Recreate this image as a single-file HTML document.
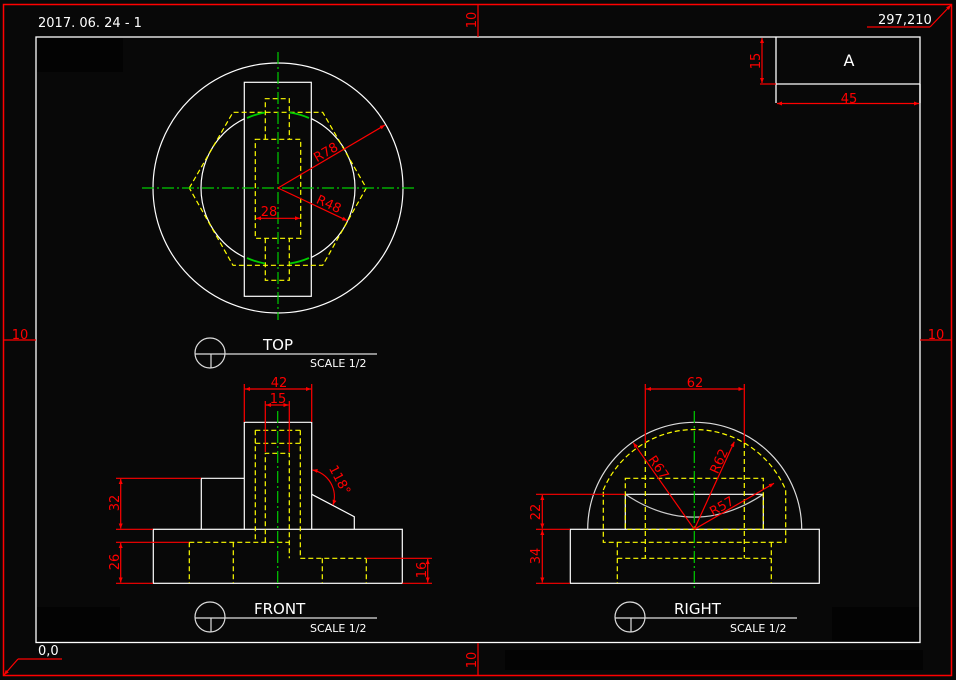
<!DOCTYPE html>
<html><head><meta charset="utf-8"><style>
html,body{margin:0;padding:0;background:#080808;}
svg{display:block;}
text{font-family:"DejaVu Sans","Liberation Sans",sans-serif;}
</style></head><body>
<svg width="956" height="680" viewBox="0 0 956 680" xmlns="http://www.w3.org/2000/svg">
<defs>
<marker id="ar" viewBox="0 0 10 10" refX="10" refY="5" markerWidth="7" markerHeight="5" orient="auto-start-reverse" markerUnits="userSpaceOnUse"><path d="M0,1 L10,5 L0,9 z" fill="#f00"/></marker>
<clipPath id="outRect"><path d="M0,0 H956 V680 H0 Z M244.3,82.3 V296.3 H311.3 V82.3 Z" clip-rule="evenodd"/></clipPath>
</defs>
<rect width="956" height="680" fill="#080808"/>
<g fill="#030303">
<rect x="37" y="38" width="86" height="34"/>
<rect x="37" y="607" width="83" height="34"/>
<rect x="832" y="607" width="87" height="34"/>
<rect x="505" y="650" width="418" height="20"/>
</g>
<rect x="3.5" y="4.5" width="948" height="671" fill="none" stroke="#f00" stroke-width="1.5"/>
<rect x="36" y="37" width="884" height="605.5" fill="none" stroke="#fff" stroke-width="1.3"/>
<g stroke="#f00" stroke-width="1.2">
<line x1="478" y1="4" x2="478" y2="37"/>
<line x1="478" y1="643" x2="478" y2="676"/>
<line x1="4" y1="340" x2="36" y2="340"/>
<line x1="920" y1="340" x2="951" y2="340"/>
</g>
<g fill="#f00" font-size="13">
<text x="20" y="339" text-anchor="middle">10</text>
<text x="936" y="339" text-anchor="middle">10</text>
<text transform="translate(476,20) rotate(-90)" text-anchor="middle">10</text>
<text transform="translate(476,660) rotate(-90)" text-anchor="middle">10</text>
</g>
<text x="38" y="27" fill="#fff" font-size="13">2017. 06. 24 - 1</text>
<text x="878" y="24" fill="#fff" font-size="13">297,210</text>
<polyline points="867,27 930,27" stroke="#f00" stroke-width="1.2" fill="none"/>
<line x1="930" y1="27" x2="951" y2="5" stroke="#f00" stroke-width="1.2" marker-end="url(#ar)"/>
<text x="38" y="655" fill="#fff" font-size="13">0,0</text>
<line x1="18" y1="659" x2="62" y2="659" stroke="#f00" stroke-width="1.2"/>
<line x1="18" y1="659" x2="4" y2="675" stroke="#f00" stroke-width="1.2" marker-end="url(#ar)"/>
<g stroke="#fff" stroke-width="1.3" fill="none">
<polyline points="776,37 776,84 920,84"/>
<line x1="776" y1="84" x2="776" y2="103"/>
<line x1="920" y1="84" x2="920" y2="103"/>
</g>
<text x="849" y="66" fill="#fff" font-size="16" text-anchor="middle">A</text>
<g stroke="#f00" stroke-width="1.2">
<line x1="760" y1="84" x2="776" y2="84"/>
<line x1="762" y1="38" x2="762" y2="83" marker-start="url(#ar)" marker-end="url(#ar)"/>
<line x1="777" y1="103.5" x2="919" y2="103.5" marker-start="url(#ar)" marker-end="url(#ar)"/>
</g>
<text x="849" y="103" fill="#f00" font-size="13" text-anchor="middle">45</text>
<text transform="translate(760,61) rotate(-90)" fill="#f00" font-size="13" text-anchor="middle">15</text>

<!-- TOP VIEW -->
<g fill="none" stroke-width="1.2">
<circle cx="278" cy="188" r="125" stroke="#fff"/>
<circle cx="278" cy="188" r="77" stroke="#fff" clip-path="url(#outRect)"/>
<rect x="244.3" y="82.3" width="67" height="214" stroke="#fff"/>
<g stroke="#ff0" stroke-dasharray="5,3">
<polygon points="189.3,188 233,112.3 322.7,112.3 366.3,188 322.7,265.3 233,265.3"/>
<rect x="255.3" y="139.3" width="45.4" height="99"/>
<polyline points="265.3,139.3 265.3,98.7 289.3,98.7 289.3,139.3"/>
<polyline points="265.3,238.3 265.3,280.3 289.3,280.3 289.3,238.3"/>
</g>
<g stroke="#0c0" stroke-width="1.8">
<path d="M247,118 A77,77 0 0 1 265,112.5"/>
<path d="M289.5,112.5 A77,77 0 0 1 309,118"/>
<path d="M247,258 A77,77 0 0 0 265,263.5"/>
<path d="M289.5,263.5 A77,77 0 0 0 309,258"/>
</g>
<g stroke="#0c0" stroke-dasharray="12,3,2,3">
<line x1="142" y1="188" x2="414" y2="188"/>
<line x1="278" y1="52" x2="278" y2="320"/>
</g>
<g stroke="#f00">
<line x1="278" y1="188" x2="385" y2="125" marker-end="url(#ar)"/>
<line x1="278" y1="188" x2="347.3" y2="220.7" marker-end="url(#ar)"/>
<line x1="256" y1="218.3" x2="300" y2="218.3" marker-start="url(#ar)" marker-end="url(#ar)"/>
</g>
</g>
<g fill="#f00" font-size="13">
<text transform="translate(328,156) rotate(-30)" text-anchor="middle">R78</text>
<text transform="translate(327,208) rotate(25)" text-anchor="middle">R48</text>
<text x="269" y="216" text-anchor="middle">28</text>
</g>

<g stroke="#ddd" stroke-width="1.2" fill="none">
<circle cx="210" cy="353" r="15"/><line x1="195" y1="354" x2="377" y2="354"/><line x1="211" y1="354" x2="211" y2="368"/>
<circle cx="210" cy="617" r="15"/><line x1="195" y1="618" x2="377" y2="618"/><line x1="211" y1="618" x2="211" y2="632"/>
<circle cx="630" cy="617" r="15"/><line x1="615" y1="618" x2="797" y2="618"/><line x1="631" y1="618" x2="631" y2="632"/>
</g>
<g fill="#fff">
<text x="263" y="350" font-size="15">TOP</text>
<text x="310" y="367" font-size="11">SCALE 1/2</text>
<text x="254" y="614" font-size="15">FRONT</text>
<text x="310" y="632" font-size="11">SCALE 1/2</text>
<text x="674" y="614" font-size="15">RIGHT</text>
<text x="730" y="632" font-size="11">SCALE 1/2</text>
</g>

<!-- FRONT VIEW -->
<g fill="none" stroke-width="1.2">
<g stroke="#fff">
<rect x="153.3" y="529.3" width="249" height="54"/>
<polyline points="244.3,529.3 244.3,422.3 311.7,422.3 311.7,529.3"/>
<polyline points="201.3,529.3 201.3,478.3 244.3,478.3"/>
<polyline points="311.7,494.3 354.3,516.7 354.3,529.3"/>
</g>
<g stroke="#ff0" stroke-dasharray="5,3">
<line x1="255.3" y1="430.3" x2="300.3" y2="430.3"/>
<line x1="255.3" y1="443.3" x2="300.3" y2="443.3"/>
<line x1="255.3" y1="430.3" x2="255.3" y2="542.3"/>
<polyline points="300.3,430.3 300.3,558.3 366.3,558.3"/>
<polyline points="265.3,542.3 265.3,453.3 289.3,453.3 289.3,558.3"/>
<line x1="189.3" y1="542.3" x2="289.3" y2="542.3"/>
<polyline points="189.3,542.3 189.3,583"/>
<line x1="233.3" y1="542.3" x2="233.3" y2="583"/>
<line x1="322.3" y1="558.3" x2="322.3" y2="583"/>
<line x1="366.3" y1="558.3" x2="366.3" y2="583"/>
</g>
<line x1="277.7" y1="411" x2="277.7" y2="590" stroke="#0c0" stroke-dasharray="12,3,2,3"/>
<g stroke="#f00">
<line x1="244.3" y1="384" x2="244.3" y2="422"/>
<line x1="311.7" y1="384" x2="311.7" y2="422"/>
<line x1="245" y1="389" x2="311" y2="389" marker-start="url(#ar)" marker-end="url(#ar)"/>
<line x1="265.3" y1="401" x2="265.3" y2="452"/>
<line x1="289.3" y1="401" x2="289.3" y2="452"/>
<line x1="266" y1="405" x2="288.5" y2="405" marker-start="url(#ar)" marker-end="url(#ar)"/>
<line x1="116" y1="478.3" x2="201" y2="478.3"/>
<line x1="116" y1="529.3" x2="153" y2="529.3"/>
<line x1="120.7" y1="479" x2="120.7" y2="528.5" marker-start="url(#ar)" marker-end="url(#ar)"/>
<line x1="116" y1="542.3" x2="189" y2="542.3"/>
<line x1="116" y1="583.3" x2="153" y2="583.3"/>
<line x1="120.7" y1="543" x2="120.7" y2="582.5" marker-start="url(#ar)" marker-end="url(#ar)"/>
<line x1="366.3" y1="558.3" x2="432" y2="558.3"/>
<line x1="402.3" y1="583.3" x2="432" y2="583.3"/>
<line x1="427.7" y1="559" x2="427.7" y2="582.5" marker-start="url(#ar)" marker-end="url(#ar)"/>
<path d="M312.5,470 A27,27 0 0 1 333,505" marker-start="url(#ar)" marker-end="url(#ar)"/>
</g>
</g>
<g fill="#f00" font-size="13">
<text x="279" y="387" text-anchor="middle">42</text>
<text x="278" y="403" text-anchor="middle">15</text>
<text transform="translate(119,503) rotate(-90)" text-anchor="middle">32</text>
<text transform="translate(119,562) rotate(-90)" text-anchor="middle">26</text>
<text transform="translate(426,570) rotate(-90)" text-anchor="middle">16</text>
<text transform="translate(336,482) rotate(62)" text-anchor="middle">118°</text>
</g>

<!-- RIGHT VIEW -->
<g fill="none" stroke-width="1.2">
<g stroke="#fff">
<rect x="570.3" y="529.3" width="249" height="54"/>
<path d="M587.7,529.3 A107,107 0 0 1 801.7,529.3" stroke="#ddd"/>
<polyline points="625.3,529.3 625.3,494.3 763.3,494.3 763.3,529.3"/>
<path d="M625.3,494.3 Q694.3,540 763.3,494.3" stroke="#ccc"/>
</g>
<g stroke="#ff0" stroke-dasharray="5,3">
<path d="M603.3,490 A99,99 0 0 1 785.7,490 L785.7,542.3 L603.3,542.3 Z"/>
<rect x="625.3" y="478.3" width="138" height="51"/>
<line x1="645.3" y1="443" x2="645.3" y2="558.3"/>
<line x1="744.3" y1="443" x2="744.3" y2="558.3"/>
<line x1="617.3" y1="558.3" x2="771.3" y2="558.3"/>
<line x1="617.3" y1="542.3" x2="617.3" y2="583"/>
<line x1="771.3" y1="542.3" x2="771.3" y2="583"/>
</g>
<line x1="694.3" y1="411" x2="694.3" y2="590" stroke="#0c0" stroke-dasharray="12,3,2,3"/>
<g stroke="#f00">
<line x1="645.3" y1="384" x2="645.3" y2="443"/>
<line x1="744.3" y1="384" x2="744.3" y2="443"/>
<line x1="646" y1="389" x2="743.5" y2="389" marker-start="url(#ar)" marker-end="url(#ar)"/>
<line x1="694.3" y1="529.3" x2="633.3" y2="442.7" marker-end="url(#ar)"/>
<line x1="694.3" y1="529.3" x2="734.3" y2="441.7" marker-end="url(#ar)"/>
<line x1="694.3" y1="529.3" x2="774" y2="483.3" marker-end="url(#ar)"/>
<line x1="536" y1="494.3" x2="625" y2="494.3"/>
<line x1="536" y1="529.3" x2="570" y2="529.3"/>
<line x1="536" y1="583.3" x2="570" y2="583.3"/>
<line x1="542.3" y1="495" x2="542.3" y2="528.5" marker-start="url(#ar)" marker-end="url(#ar)"/>
<line x1="542.3" y1="530" x2="542.3" y2="582.5" marker-start="url(#ar)" marker-end="url(#ar)"/>
</g>
</g>
<g fill="#f00" font-size="13">
<text x="695" y="387" text-anchor="middle">62</text>
<text transform="translate(655,470) rotate(55)" text-anchor="middle">R67</text>
<text transform="translate(723,463) rotate(-66)" text-anchor="middle">R62</text>
<text transform="translate(724,510) rotate(-30)" text-anchor="middle">R57</text>
<text transform="translate(540,512) rotate(-90)" text-anchor="middle">22</text>
<text transform="translate(540,556) rotate(-90)" text-anchor="middle">34</text>
</g>
</svg>
</body></html>
